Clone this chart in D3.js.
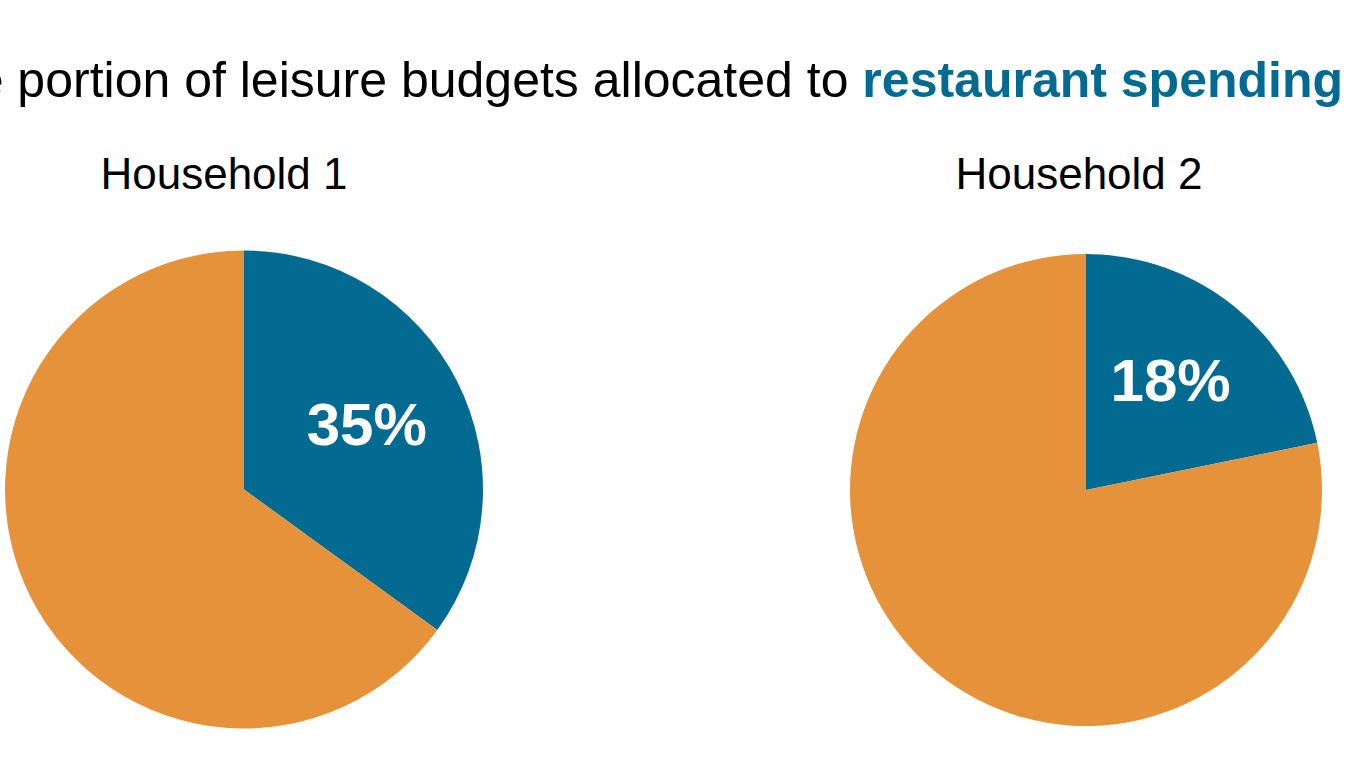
<!DOCTYPE html>
<html>
<head>
<meta charset="utf-8">
<script src="https://cdn.jsdelivr.net/npm/d3@7"></script>
<style>
  html, body { margin: 0; padding: 0; background: #fff; overflow: hidden; }
  text { font-family: "Liberation Sans", Arial, sans-serif; }
</style>
</head>
<body>
<div id="chart"></div>
<script>
// data
const households = ["Household 1", "Household 2"];
// drawn share of the restaurant slice (the 2nd pie is drawn larger than its label)
const restaurantShare = [0.35, 0.218];
const shareLabels = ["35%", "18%"];
const categories = ["Restaurant", "Other leisure"];

const width = 1368;
const height = 770;
const colors = d3.scaleOrdinal().domain(categories).range(["#036a92", "#e6923a"]);

const svg = d3.select("#chart")
    .append("svg")
    .attr("width", width)
    .attr("height", height);

// title, clipped at the left edge like the original
const title = svg.append("text")
    .attr("x", 1343)
    .attr("y", 97)
    .attr("text-anchor", "end")
    .attr("font-size", 50)
    .attr("fill", "#000");
title.append("tspan").text("The portion of leisure budgets allocated to ");
title.append("tspan")
    .attr("font-weight", "bold")
    .attr("fill", "#036a92")
    .text("restaurant spending");

const pies = [
    { cx: 244, cy: 489.5, r: 239, labelX: 224 },
    { cx: 1086, cy: 490, r: 236, labelX: 1079 }
];

const pie = d3.pie().sort(null).value(d => d.value);

households.forEach((name, i) => {
    const p = pies[i];
    const slices = [
        { cat: categories[0], value: restaurantShare[i] },
        { cat: categories[1], value: 1 - restaurantShare[i] }
    ];
    const arc = d3.arc().innerRadius(0).outerRadius(p.r);
    const labelArc = d3.arc().innerRadius(p.r * 0.6).outerRadius(p.r * 0.6);

    svg.append("text")
        .attr("x", p.labelX)
        .attr("y", 189)
        .attr("text-anchor", "middle")
        .attr("font-size", 44)
        .attr("fill", "#000")
        .text(name);

    const g = svg.append("g")
        .attr("transform", `translate(${p.cx},${p.cy})`);

    const arcs = pie(slices);

    g.selectAll("path")
        .data(arcs)
        .enter()
        .append("path")
        .attr("d", arc)
        .attr("fill", d => colors(d.data.cat));

    const c = labelArc.centroid(arcs[0]);
    g.append("text")
        .attr("x", c[0] - 5)
        .attr("y", c[1])
        .attr("dy", "0.35em")
        .attr("text-anchor", "middle")
        .attr("font-size", 60)
        .attr("font-weight", "bold")
        .attr("fill", "#fff")
        .text(shareLabels[i]);
});
</script>
</body>
</html>
